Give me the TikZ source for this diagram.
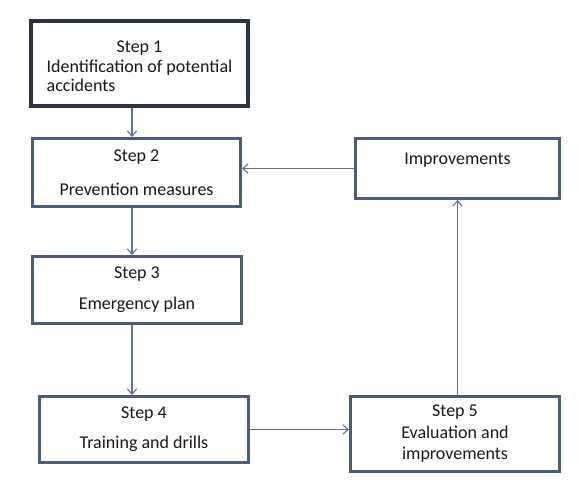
\documentclass[tikz,border=0pt]{standalone}
\usepackage{fontspec}
\setmainfont{Carlito}
\usepackage{xcolor}
\usetikzlibrary{positioning, arrows.meta, calc}

\definecolor{boxline}{HTML}{4A5C78}
\definecolor{firstline}{HTML}{2B3440}
\definecolor{linkline}{HTML}{5A7394}

\begin{document}
\begin{tikzpicture}[
    x=0.75pt, y=-0.75pt,
    >={Straight Barb[length=4pt, width=7pt]},
    stepbox/.style={rectangle, draw=boxline, line width=2.25pt, fill=white,
        align=center, inner sep=2pt, text=black!90,
        font=\fontsize{13.5}{14.6}\selectfont},
    link/.style={->, draw=linkline, line width=0.8pt}
]
    \useasboundingbox (0,0) rectangle (578,493);

    % Left column: steps 1 to 4
    \node[stepbox, draw=firstline, line width=2.8pt,
        minimum width=162.75pt, minimum height=63.75pt] (s1) at (139.5, 63.5)
        {\raisebox{-3.5pt}[\height][\depth]{%
         \begin{tabular}{@{}l@{}}
           \multicolumn{1}{@{}c@{}}{Step 1}\\
           Identification of potential\\
           accidents
         \end{tabular}}};
    \node[stepbox, minimum width=156pt, minimum height=51pt] (s2) at (136.5, 172.5)
        {Step 2\\[10.5pt] Prevention measures};
    \node[stepbox, minimum width=156.75pt, minimum height=50.25pt] (s3) at (137, 290)
        {Step 3\\[8.5pt] Emergency plan};
    \node[stepbox, minimum width=156.75pt, minimum height=49.5pt] (s4) at (144, 429.5)
        {Step 4\\[8pt] Training and drills};

    % Right column: step 5 and improvements
    \node[stepbox, minimum width=156.75pt, minimum height=56.25pt] (s5) at (455, 434)
        {Step 5\\[1.5pt] Evaluation and\\[1.5pt] improvements};
    \node[stepbox, minimum width=153pt, minimum height=45pt] (imp) at (457.5, 168.5)
        {Improvements\\ \mbox{}};

    % Flow down the left column
    \draw[link] (s1.south -| 132,0) -- (s2.north -| 132,0);
    \draw[link] (s2.south -| 132,0) -- (s3.north -| 132,0);
    \draw[link] (s3.south -| 132,0) -- (s4.north -| 132,0);

    % Loop back through evaluation and improvements
    \draw[link] (s4.east) -- (s5.west |- s4.east);
    \draw[link] (s5.north -| imp.south) -- (imp.south);
    \draw[link] (imp.west) -- (s2.east |- imp.west);
\end{tikzpicture}
\end{document}
